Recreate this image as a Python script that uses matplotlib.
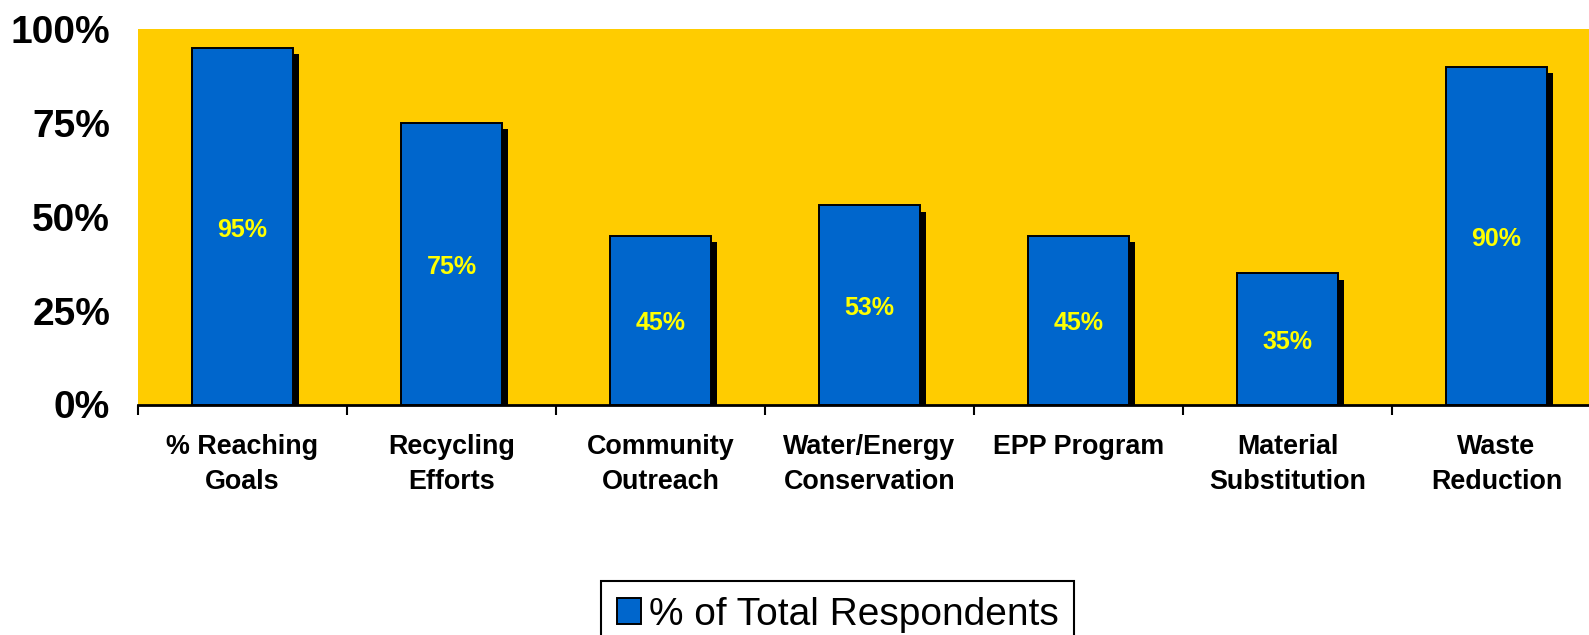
import matplotlib.pyplot as plt
import numpy as np

categories = ["% Reaching\nGoals", "Recycling\nEfforts", "Community\nOutreach",
              "Water/Energy\nConservation", "EPP Program", "Material\nSubstitution",
              "Waste\nReduction"]
values = [95, 75, 45, 53, 45, 35, 90]
value_labels = ["95%", "75%", "45%", "53%", "45%", "35%", "90%"]
ytick_vals = [0, 25, 50, 75, 100]
ytick_labels = ["0%", "25%", "50%", "75%", "100%"]

plt.rcParams['font.family'] = ['Liberation Sans', 'DejaVu Sans']

W, H = 1589, 635
fig = plt.figure(figsize=(W / 100, H / 100), dpi=100)
left, right, top, bottom = 138, 1601, 29, 404.5
ax = fig.add_axes([left / W, 1 - bottom / H, (right - left) / W, (bottom - top) / H])
ax.set_facecolor("#FFCC00")

x = np.arange(len(values))
bw = 0.483
px_x = 7.0 / (right - left)
px_y = 100 / (bottom - top)
dx, dy = 6 * px_x, 6.5 * px_y

# drop shadow behind each bar
ax.bar(x + dx, np.array(values) - dy, bw, color="black", zorder=2)
ax.bar(x, values, bw, color="#0066CC", edgecolor="black", linewidth=1.4, zorder=3)

for xi, v, lab in zip(x, values, value_labels):
    ax.annotate(lab, (xi, v / 2), xytext=(0, -2.5), textcoords="offset points",
                ha="center", va="center", color="#FFFF00",
                fontsize=18, fontweight="bold", zorder=4)

ax.set_xlim(-0.5, 6.5)
ax.set_ylim(0, 100)
ax.set_yticks(ytick_vals)
ax.set_yticklabels(ytick_labels, fontsize=28, fontweight="bold")
ax.tick_params(axis="y", length=0, pad=20)

ax.set_xticks(x)
ax.set_xticklabels(categories, fontsize=19.4, fontweight="bold", linespacing=1.45)
ax.set_xticks(np.arange(-0.5, 7, 1), minor=True)
ax.tick_params(axis="x", which="major", length=0, pad=21.5)
ax.tick_params(axis="x", which="minor", length=7, width=1.5, direction="out", color="black")

for s in ["left", "right", "top"]:
    ax.spines[s].set_visible(False)
ax.spines["bottom"].set_linewidth(2)
ax.spines["bottom"].set_zorder(5)

leg_handle = plt.Rectangle((0, 0), 1, 1, facecolor="#0066CC", edgecolor="black", linewidth=1.4)
leg = fig.legend([leg_handle], ["% of Total Respondents"], loc="upper left",
                 bbox_to_anchor=(601 / W, 1 - 581 / H), fontsize=28,
                 frameon=True, fancybox=False, framealpha=1, edgecolor="black",
                 handlelength=0.63, handleheight=0.63, handletextpad=0.2,
                 borderpad=0.4, borderaxespad=0)
leg.get_frame().set_linewidth(1.5)

fig.savefig("out.png", dpi=100)
